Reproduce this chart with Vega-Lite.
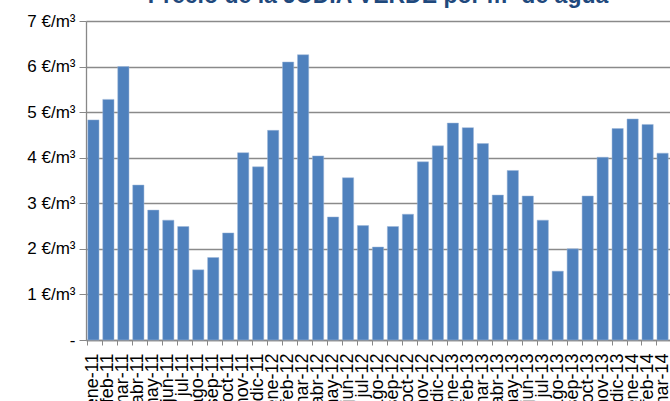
{
  "$schema": "https://vega.github.io/schema/vega-lite/v6.json",
  "autosize": {"type": "none"},
  "padding": {"left": 86, "top": 21, "right": 0, "bottom": 61},
  "width": 584,
  "height": 319,
  "background": "white",
  "title": {
    "text": "Precio de la JUDÍA VERDE por m³ de agua",
    "font": "Liberation Sans",
    "fontSize": 23,
    "fontWeight": "bold",
    "color": "#1F497D",
    "anchor": "middle",
    "offset": 4
  },
  "data": {
    "values": [
      {"mes": "ene-11", "precio": 4.83},
      {"mes": "feb-11", "precio": 5.28},
      {"mes": "mar-11", "precio": 6.0},
      {"mes": "abr-11", "precio": 3.40},
      {"mes": "may-11", "precio": 2.85},
      {"mes": "jun-11", "precio": 2.63},
      {"mes": "jul-11", "precio": 2.49},
      {"mes": "ago-11", "precio": 1.54},
      {"mes": "sep-11", "precio": 1.81},
      {"mes": "oct-11", "precio": 2.35},
      {"mes": "nov-11", "precio": 4.11},
      {"mes": "dic-11", "precio": 3.80},
      {"mes": "ene-12", "precio": 4.60},
      {"mes": "feb-12", "precio": 6.10},
      {"mes": "mar-12", "precio": 6.26},
      {"mes": "abr-12", "precio": 4.04},
      {"mes": "may-12", "precio": 2.70},
      {"mes": "jun-12", "precio": 3.56},
      {"mes": "jul-12", "precio": 2.51},
      {"mes": "ago-12", "precio": 2.04},
      {"mes": "sep-12", "precio": 2.49},
      {"mes": "oct-12", "precio": 2.76},
      {"mes": "nov-12", "precio": 3.91},
      {"mes": "dic-12", "precio": 4.26},
      {"mes": "ene-13", "precio": 4.76},
      {"mes": "feb-13", "precio": 4.66},
      {"mes": "mar-13", "precio": 4.31},
      {"mes": "abr-13", "precio": 3.18},
      {"mes": "may-13", "precio": 3.72},
      {"mes": "jun-13", "precio": 3.16},
      {"mes": "jul-13", "precio": 2.63},
      {"mes": "ago-13", "precio": 1.51},
      {"mes": "sep-13", "precio": 2.0},
      {"mes": "oct-13", "precio": 3.16},
      {"mes": "nov-13", "precio": 4.01},
      {"mes": "dic-13", "precio": 4.64},
      {"mes": "ene-14", "precio": 4.85},
      {"mes": "feb-14", "precio": 4.73},
      {"mes": "mar-14", "precio": 4.10}
    ]
  },
  "mark": {"type": "bar", "color": "#4F81BD", "stroke": "#9db6d8", "strokeWidth": 0.5},
  "encoding": {
    "x": {
      "field": "mes",
      "type": "nominal",
      "sort": null,
      "scale": {"paddingInner": 0.25, "paddingOuter": 0.12},
      "axis": {
        "title": null,
        "labelAngle": -90,
        "labelFont": "Liberation Sans",
        "labelFontSize": 18,
        "labelColor": "#000000",
        "labelPadding": 8,
        "bandPosition": 0,
        "tickColor": "#888888",
        "tickSize": 5,
        "domainColor": "#888888",
        "domainWidth": 1.3,
        "labelOverlap": false
      }
    },
    "y": {
      "field": "precio",
      "type": "quantitative",
      "scale": {"domain": [0, 7], "nice": false},
      "axis": {
        "title": null,
        "values": [0, 1, 2, 3, 4, 5, 6, 7],
        "labelExpr": "datum.value == 0 ? '-' : datum.value + ' €/m³'",
        "labelFont": "Liberation Sans",
        "labelFontSize": 17,
        "labelColor": "#000000",
        "labelPadding": 4,
        "tickColor": "#888888",
        "tickSize": 7,
        "domainColor": "#888888",
        "domainWidth": 1.3,
        "gridColor": "#8a8a8a",
        "gridWidth": 1.3,
        "grid": true
      }
    }
  },
  "config": {"view": {"stroke": null}}
}
